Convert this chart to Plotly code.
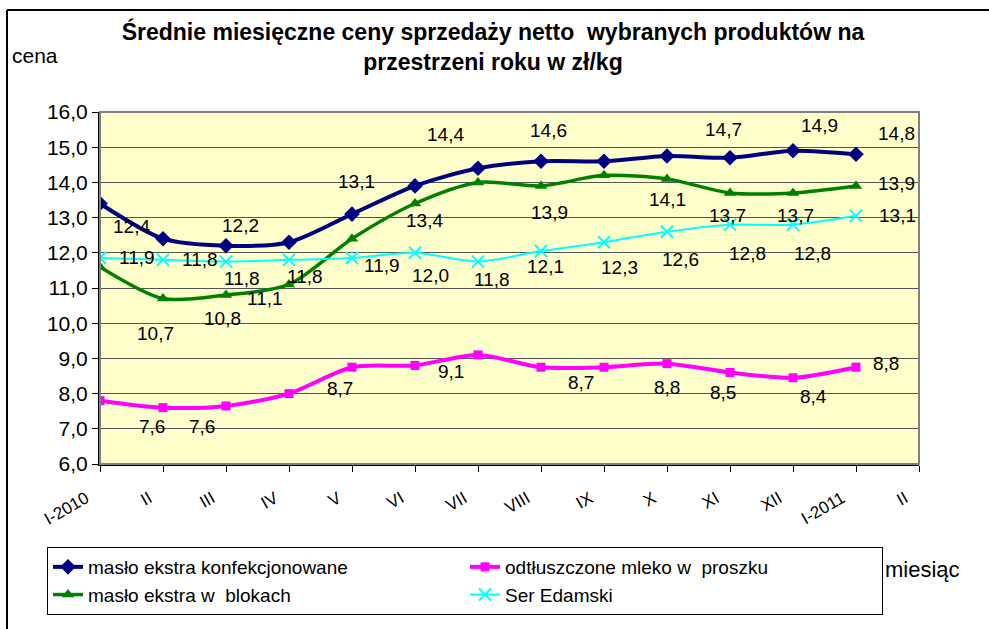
import plotly.graph_objects as go

month_labels = ["I-2010", "II", "III", "IV", "V", "VI", "VII", "VIII", "IX", "X",
                "XI", "XII", "I-2011", "II"]

maslo_konf = [13.4, 12.4, 12.2, 12.3, 13.1, 13.9, 14.4, 14.6, 14.6, 14.75, 14.7, 14.9, 14.8]
maslo_blok = [11.6, 10.7, 10.8, 11.1, 12.4, 13.4, 14.0, 13.9, 14.2, 14.1, 13.7, 13.7, 13.9]
mleko = [7.8, 7.6, 7.65, 8.0, 8.75, 8.8, 9.1, 8.75, 8.75, 8.85, 8.6, 8.45, 8.75]
ser = [11.85, 11.8, 11.75, 11.8, 11.85, 12.0, 11.75, 12.05, 12.3, 12.6, 12.8, 12.8, 13.05]

names = ["masło ekstra konfekcjonowane", "odtłuszczone mleko w  proszku",
         "masło ekstra w  blokach", "Ser Edamski"]

# label display values (as printed on chart), None = no label
lab_konf = [None, 12.4, 12.2, None, 13.1, None, 14.4, 14.6, None, None, 14.7, 14.9, 14.8]
lab_blok = [None, 10.7, 10.8, 11.1, None, 13.4, None, 13.9, None, 14.1, 13.7, 13.7, 13.9]
lab_mleko = [None, 7.6, 7.6, None, 8.7, None, 9.1, None, 8.7, 8.8, 8.5, 8.4, 8.8]
lab_ser = [11.9, 11.8, 11.8, 11.8, 11.9, 12.0, 11.8, 12.1, 12.3, 12.6, 12.8, 12.8, 13.1]

# label offsets in pixels (style)
off_konf = [None, (-32, 12), (14, 20), None, (4, 33), None, (-33, 34), (7, 31), None, None,
            (-7, 28), (26, 25), (40, 21)]
off_blok = [None, (-8, -35), (-4, -23), (-24, -14), None, (9, -17), None, (8, -27), None,
            (0, -21), (-3, -23), (2, -23), (40, 2)]
off_mleko = [None, (-11, -19), (-24, -21), None, (-12, -21), None, (-27, -17), None, (-23, -15),
             (0, -24), (-7, -20), (20, -19), (30, 4)]
off_ser = [(37, 1), (37, 0), (16, -17), (16, -17), (30, -7), (15, -23), (14, -18), (4, -15),
           (15, -25), (13, -28), (17, -29), (19, -29), (41, 0)]

FONT = "Liberation Sans, Arial, sans-serif"

W, H = 989, 629
L, R, T, B = 100, 70, 112, 165
pw, ph = W - L - R, H - T - B


def px_to_paper(px, py):
    return (px - L) / pw, (H - B - py) / ph


fig = go.Figure()

series = [
    (maslo_konf, names[0], "#000080", 4, dict(symbol="diamond", size=12)),
    (mleko, names[1], "#FF00FF", 4, dict(symbol="square", size=9)),
    (maslo_blok, names[2], "#008000", 3.5, dict(symbol="triangle-up", size=11)),
    (ser, names[3], "#00FFFF", 2, dict(symbol="x-thin", size=12, line=dict(width=2, color="#00FFFF"))),
]

for vals, name, color, lw, mk in series:
    fig.add_trace(go.Scatter(
        x=list(range(len(vals))), y=vals, name=name, mode="lines+markers",
        line=dict(color=color, width=lw, shape="spline", smoothing=0.8),
        marker=dict(color=color, **mk),
    ))

annotations = []
for vals, labs, offs in [(maslo_konf, lab_konf, off_konf), (maslo_blok, lab_blok, off_blok),
                         (mleko, lab_mleko, off_mleko), (ser, lab_ser, off_ser)]:
    for i, (v, lab, off) in enumerate(zip(vals, labs, offs)):
        if lab is None:
            continue
        annotations.append(dict(
            x=i, y=v, xref="x", yref="y", text=f"{lab:.1f}".replace(".", ","),
            showarrow=False, xshift=off[0], yshift=off[1],
            font=dict(family=FONT, size=19, color="black"),
        ))

cx, cy = px_to_paper(10, 55)
annotations.append(dict(text="cena", x=cx, y=cy, xref="paper", yref="paper", showarrow=False,
                        xanchor="left", yanchor="middle",
                        font=dict(family=FONT, size=21, color="black")))
mx, my = px_to_paper(883, 569)
annotations.append(dict(text="miesiąc", x=mx, y=my, xref="paper", yref="paper", showarrow=False,
                        xanchor="left", yanchor="middle",
                        font=dict(family=FONT, size=22, color="black")))

lx, ly = px_to_paper(47, 547)

shapes = [
    dict(type="rect", xref="paper", yref="paper", x0=0, x1=1, y0=0, y1=1,
         line=dict(color="#808080", width=2), layer="above"),
]
x0p, y0p = px_to_paper(7, 10)
x1p, y1p = px_to_paper(989, 629)
shapes.append(dict(type="line", xref="paper", yref="paper", x0=x0p, x1=x1p, y0=y0p, y1=y0p,
                   line=dict(color="black", width=2)))
shapes.append(dict(type="line", xref="paper", yref="paper", x0=x0p, x1=x0p, y0=y0p, y1=y1p,
                   line=dict(color="black", width=2)))

fig.update_layout(
    width=W, height=H,
    margin=dict(l=L, r=R, t=T, b=B, pad=0, autoexpand=False),
    paper_bgcolor="white", plot_bgcolor="#FFFFCC",
    separators=", ",
    font=dict(family=FONT, color="black"),
    title=dict(text="Średnie miesięczne ceny sprzedaży netto  wybranych produktów na<br>przestrzeni roku w zł/kg",
               x=(493 - L) / pw, xref="paper", xanchor="center", y=1 - 40 / H, yanchor="middle",
               font=dict(family=FONT, size=23, color="black", weight="bold")),
    xaxis=dict(range=[0, 13], tickmode="array", tickvals=list(range(len(month_labels))),
               ticktext=month_labels, tickangle=-30, showgrid=False, zeroline=False,
               showline=True, linecolor="black", linewidth=2, ticks="outside", ticklen=6,
               tickcolor="black", ticklabelstandoff=10, ticklabelshift=-14,
               ticklabeloverflow="allow",
               tickfont=dict(family=FONT, size=17, color="black")),
    yaxis=dict(range=[6, 16], dtick=1, tickformat=".1f", showgrid=True, gridcolor="#555555",
               gridwidth=1, zeroline=False, showline=True, linecolor="black", linewidth=2,
               ticks="outside", ticklen=6, tickcolor="black",
               tickfont=dict(family=FONT, size=21, color="black")),
    legend=dict(orientation="h", x=lx, y=ly, xanchor="left", yanchor="top",
                entrywidth=372, entrywidthmode="pixels",
                bgcolor="white", bordercolor="black", borderwidth=1,
                font=dict(family=FONT, size=19, color="black")),
    annotations=annotations,
    shapes=shapes,
    showlegend=True,
)

fig.write_html("out.html", config={"displayModeBar": False},
               post_script="document.body.style.margin='0';document.body.style.overflow='hidden';")
